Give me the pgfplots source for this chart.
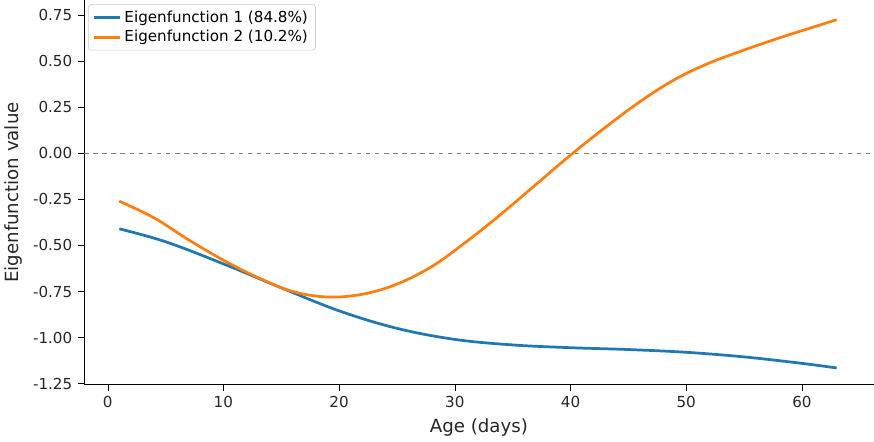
\documentclass[border=0pt]{standalone}
\usepackage{pgfplots}
\pgfplotsset{compat=1.18}
\usepackage{fontspec}
\setmainfont{DejaVu Sans}
\definecolor{tblue}{HTML}{1F77B4}
\definecolor{torange}{HTML}{FF7F0E}
\begin{document}
\begin{tikzpicture}
\begin{axis}[
  width=19.9cm, height=10.5cm,
  xmin=-2.04, xmax=66.2, ymin=-1.256, ymax=0.83,
  xtick={0,10,20,30,40,50,60},
  ytick={-1.25,-1,-0.75,-0.5,-0.25,0,0.25,0.5,0.75},
  yticklabel style={/pgf/number format/.cd,fixed,fixed zerofill,precision=2},
  /pgf/number format/assume math mode=true,
  axis lines*=left, tick align=outside,
  tick style={black}, ticklabel style={font=\normalsize, text=black!85},
  xlabel={Age (days)}, ylabel={Eigenfunction value},
  label style={font=\large, text=black!85},
  legend style={at={(0.005,0.99)}, anchor=north west, font=\normalsize, draw=black!20, rounded corners=2pt},
  legend cell align=left,
]
\addplot[tblue, line width=1.8pt, smooth, tension=0.6] coordinates {
(1,-0.41) (5,-0.48) (10,-0.6) (15,-0.73) (20,-0.855) (25,-0.95) (30,-1.01) (35,-1.04) (40,-1.055) (45,-1.065) (50,-1.08) (55,-1.105) (60,-1.14) (63,-1.165)};
\addlegendentry{Eigenfunction 1 (84.8\%)}
\addplot[torange, line width=1.8pt, smooth, tension=0.6] coordinates {
(1,-0.26) (4,-0.35) (7,-0.47) (10,-0.58) (13,-0.675) (16,-0.75) (19,-0.78) (22,-0.765) (25,-0.71) (28,-0.615) (31,-0.48) (34,-0.33) (37,-0.17) (40,-0.01) (43,0.14) (46,0.28) (49,0.4) (52,0.49) (55,0.56) (58,0.625) (61,0.685) (63,0.725)};
\addlegendentry{Eigenfunction 2 (10.2\%)}
\addplot[gray, dashed, thin, forget plot] coordinates {(-2.04,0) (66.2,0)};
\end{axis}
\end{tikzpicture}
\end{document}
